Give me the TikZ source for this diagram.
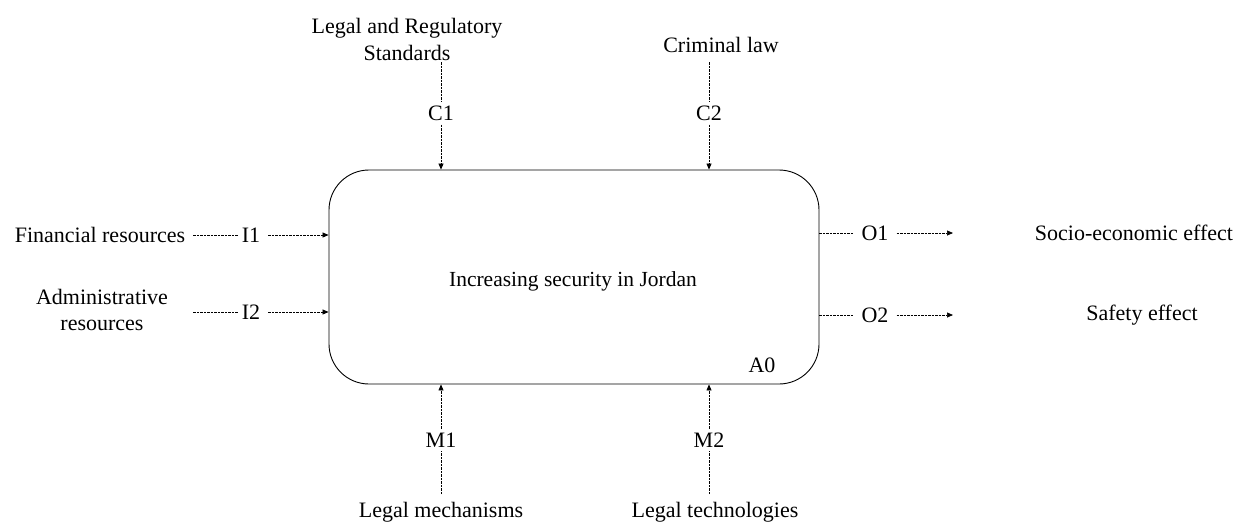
\documentclass[tikz,border=0pt]{standalone}
\usepackage{fontspec}
\setmainfont{Liberation Serif}
\usetikzlibrary{arrows.meta}
\begin{document}
\begin{tikzpicture}[x=1pt,y=-1pt,
  lbl/.style={font=\fontsize{22}{24}\selectfont, inner sep=4pt},
  conn/.style={draw, line width=0.7pt, dash pattern=on 2.5pt off 1pt},
  arr/.style={conn, -{Triangle[length=6pt,width=5pt]}}]
\useasboundingbox (0,0) rectangle (1238,525);
% main box
\node[draw, line width=0.9pt, rounded corners=40pt, minimum width=490pt, minimum height=214pt, inner sep=0pt] (box) at (574,277) {};
\node[font=\fontsize{21.5}{23}\selectfont] (title) at (573,281) {Increasing security in Jordan};
\node[lbl] (a0) at (762,365) {A0};
% inputs
\node[lbl] (fin) at (100,235) {Financial resources};
\node[lbl] (i1) at (251,235) {I1};
\node[lbl, align=center, font=\fontsize{22}{26}\selectfont] (adm) at (102,310) {Administrative\\resources};
\node[lbl] (i2) at (251,312) {I2};
\draw[conn] ([xshift=4pt]fin.east) -- (i1.west);
\draw[arr] ([xshift=4pt]i1.east) -- (i1 -| box.west);
\draw[conn] ([xshift=4pt]i2.west -| fin.east) -- (i2.west);
\draw[arr] ([xshift=4pt]i2.east) -- (i2 -| box.west);
% controls
\node[lbl, align=center, font=\fontsize{22}{27}\selectfont] (std) at (407,39) {Legal and Regulatory\\Standards};
\node[lbl] (crim) at (721,45) {Criminal law};
\coordinate (c1s) at (441,62);
\coordinate (c2s) at (709,62);
\node[lbl] (c1) at (441,113) {C1};
\node[lbl] (c2) at (709,113) {C2};
\draw[conn] (c1s) -- (c1.north);
\draw[arr] (c1.south) -- (c1 |- box.north);
\draw[conn] (c2s) -- (c2.north);
\draw[arr] (c2.south) -- (c2 |- box.north);
% mechanisms
\node[lbl] (m1) at (441,440) {M1};
\node[lbl] (m2) at (709,440) {M2};
\node[lbl] (lm) at (441,512) {Legal mechanisms};
\node[lbl] (lt) at (715,512) {Legal technologies};
\coordinate (m1s) at (441,494);
\coordinate (m2s) at (709,494);
\draw[conn] (m1s) -- (m1.south);
\draw[arr] (m1.north) -- (m1 |- box.south);
\draw[conn] (m2s) -- (m2.south);
\draw[arr] (m2.north) -- (m2 |- box.south);
% outputs
\node[lbl] (o1) at (875,233) {O1};
\node[lbl] (o2) at (875,315) {O2};
\node[lbl] (soc) at (1134,233) {Socio-economic effect};
\node[lbl] (saf) at (1142,315) {Safety effect};
\coordinate (o1e) at (953,233);
\coordinate (o2e) at (953,315);
\draw[conn] (o1 -| box.east) -- ([xshift=-4pt]o1.west);
\draw[arr] ([xshift=4pt]o1.east) -- (o1e);
\draw[conn] (o2 -| box.east) -- ([xshift=-4pt]o2.west);
\draw[arr] ([xshift=4pt]o2.east) -- (o2e);
\end{tikzpicture}
\end{document}
